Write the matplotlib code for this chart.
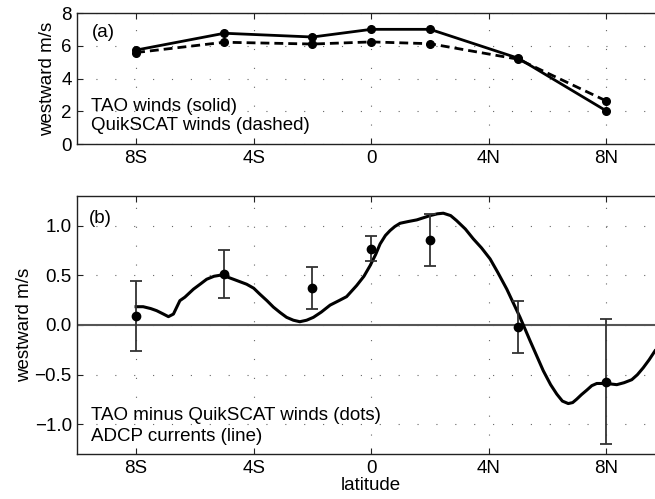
import matplotlib
matplotlib.use("Agg")
import matplotlib.pyplot as plt

plt.rcParams['font.family'] = ['Liberation Sans', 'DejaVu Sans']

# panel (a): winds at the mooring latitudes
mooring_lat = [-8, -5, -2, 0, 2, 5, 8]
tao_winds = [5.75, 6.78, 6.55, 7.02, 7.02, 5.25, 2.02]
quikscat_winds = [5.6, 6.23, 6.12, 6.25, 6.14, 5.19, 2.63]

# panel (b): wind difference with error bars, and ADCP currents
wind_diff = [0.09, 0.51, 0.37, 0.765, 0.856, -0.017, -0.57]
wind_diff_err = [0.35, 0.24, 0.21, 0.125, 0.26, 0.26, 0.63]

adcp_lat = [-8.0, -7.76, -7.50, -7.30, -7.07, -6.90, -6.73, -6.51, -6.34, -6.05,
            -5.80, -5.60, -5.35, -5.15, -4.92, -4.69, -4.24, -4.00, -3.79, -3.55,
            -3.33, -3.10, -2.88, -2.65, -2.43, -2.20, -1.97, -1.70, -1.40, -1.10,
            -0.84, -0.50, -0.25, -0.04, 0.15, 0.30, 0.48, 0.64, 0.80, 0.98,
            1.25, 1.55, 2.0, 2.25, 2.45, 2.70, 2.90, 3.20, 3.47, 3.75,
            4.04, 4.30, 4.61, 5.06, 5.40, 5.85, 6.10, 6.31, 6.50, 6.70,
            6.85, 6.99, 7.15, 7.33, 7.50, 7.67, 8.01, 8.35, 8.60, 8.86,
            9.05, 9.25, 9.45, 9.65]
adcp_current = [0.184, 0.184, 0.165, 0.144, 0.11, 0.084, 0.11, 0.245, 0.28, 0.36,
                0.415, 0.46, 0.49, 0.50, 0.485, 0.46, 0.41, 0.37, 0.31, 0.245,
                0.18, 0.125, 0.077, 0.048, 0.033, 0.048, 0.077, 0.13, 0.20, 0.245,
                0.285, 0.396, 0.49, 0.597, 0.71, 0.815, 0.90, 0.95, 0.99, 1.023,
                1.04, 1.057, 1.10, 1.118, 1.124, 1.10, 1.05, 0.965, 0.866, 0.775,
                0.665, 0.53, 0.36, 0.077, -0.158, -0.46, -0.60, -0.695, -0.765, -0.79,
                -0.78, -0.745, -0.70, -0.655, -0.61, -0.588, -0.588, -0.60, -0.58, -0.55,
                -0.50, -0.43, -0.35, -0.26]

lat_ticks = [-8, -4, 0, 4, 8]
lat_labels = ['8S', '4S', '0', '4N', '8N']
fs = 13.5


def style_axes(ax):
    ax.set_xlim(-10, 10)
    ax.set_xticks(lat_ticks)
    ax.set_xticklabels(lat_labels)
    for s in ax.spines.values():
        s.set_color('#222222')
        s.set_linewidth(1.0)
    ax.tick_params(direction='in', length=4, width=0.8, top=True, right=True,
                   labelsize=fs, pad=4, colors='#222222', labelcolor='black')
    # sparse dotted grid like the original
    ax.grid(True, linestyle=(0, (1, 16)), color='#666666', linewidth=0.8)
    ax.set_axisbelow(True)


def main():
    fig = plt.figure(figsize=(6.55, 4.99), dpi=100)

    ax1 = fig.add_axes([0.118, 0.7114, 0.8977, 0.2619])
    ax1.plot(mooring_lat, tao_winds, '-o', color='black', lw=2.0, ms=5.5)
    ax1.plot(mooring_lat, quikscat_winds, '--o', color='black', lw=2.0, ms=5.5,
             dashes=(3.2, 1.8))
    ax1.set_ylim(0, 8)
    ax1.set_yticks([0, 2, 4, 6, 8])
    style_axes(ax1)
    ax1.set_ylabel('westward m/s', fontsize=fs, labelpad=4)
    ax1.text(0.024, 0.85, '(a)', transform=ax1.transAxes, fontsize=fs, va='center')
    ax1.text(0.024, 0.29, 'TAO winds (solid)', transform=ax1.transAxes, fontsize=fs, va='center')
    ax1.text(0.024, 0.14, 'QuikSCAT winds (dashed)', transform=ax1.transAxes, fontsize=fs, va='center')

    ax2 = fig.add_axes([0.118, 0.0896, 0.8977, 0.5182])
    ax2.axhline(0, color='#555555', lw=1.5, zorder=1)
    ax2.plot(adcp_lat, adcp_current, '-', color='black', lw=2.2, zorder=3)
    ax2.errorbar(mooring_lat, wind_diff, yerr=wind_diff_err, fmt='o', color='black',
                 ms=6, ecolor='#333333', elinewidth=1.3, capsize=4, capthick=1.3, zorder=4)
    ax2.set_ylim(-1.3, 1.3)
    ax2.set_yticks([-1.0, -0.5, 0.0, 0.5, 1.0])
    ax2.set_yticklabels(['\u22121.0', '\u22120.5', '0.0', '0.5', '1.0'])
    style_axes(ax2)
    ax2.set_ylabel('westward m/s', fontsize=fs, labelpad=1)
    ax2.set_xlabel('latitude', fontsize=fs, labelpad=0)
    ax2.text(0.019, 0.91, '(b)', transform=ax2.transAxes, fontsize=fs, va='center')
    ax2.text(0.024, 0.15, 'TAO minus QuikSCAT winds (dots)', transform=ax2.transAxes,
             fontsize=fs, va='center')
    ax2.text(0.024, 0.068, 'ADCP currents (line)', transform=ax2.transAxes,
             fontsize=fs, va='center')

    fig.savefig('out.png', dpi=100)


if __name__ == "__main__":
    main()
